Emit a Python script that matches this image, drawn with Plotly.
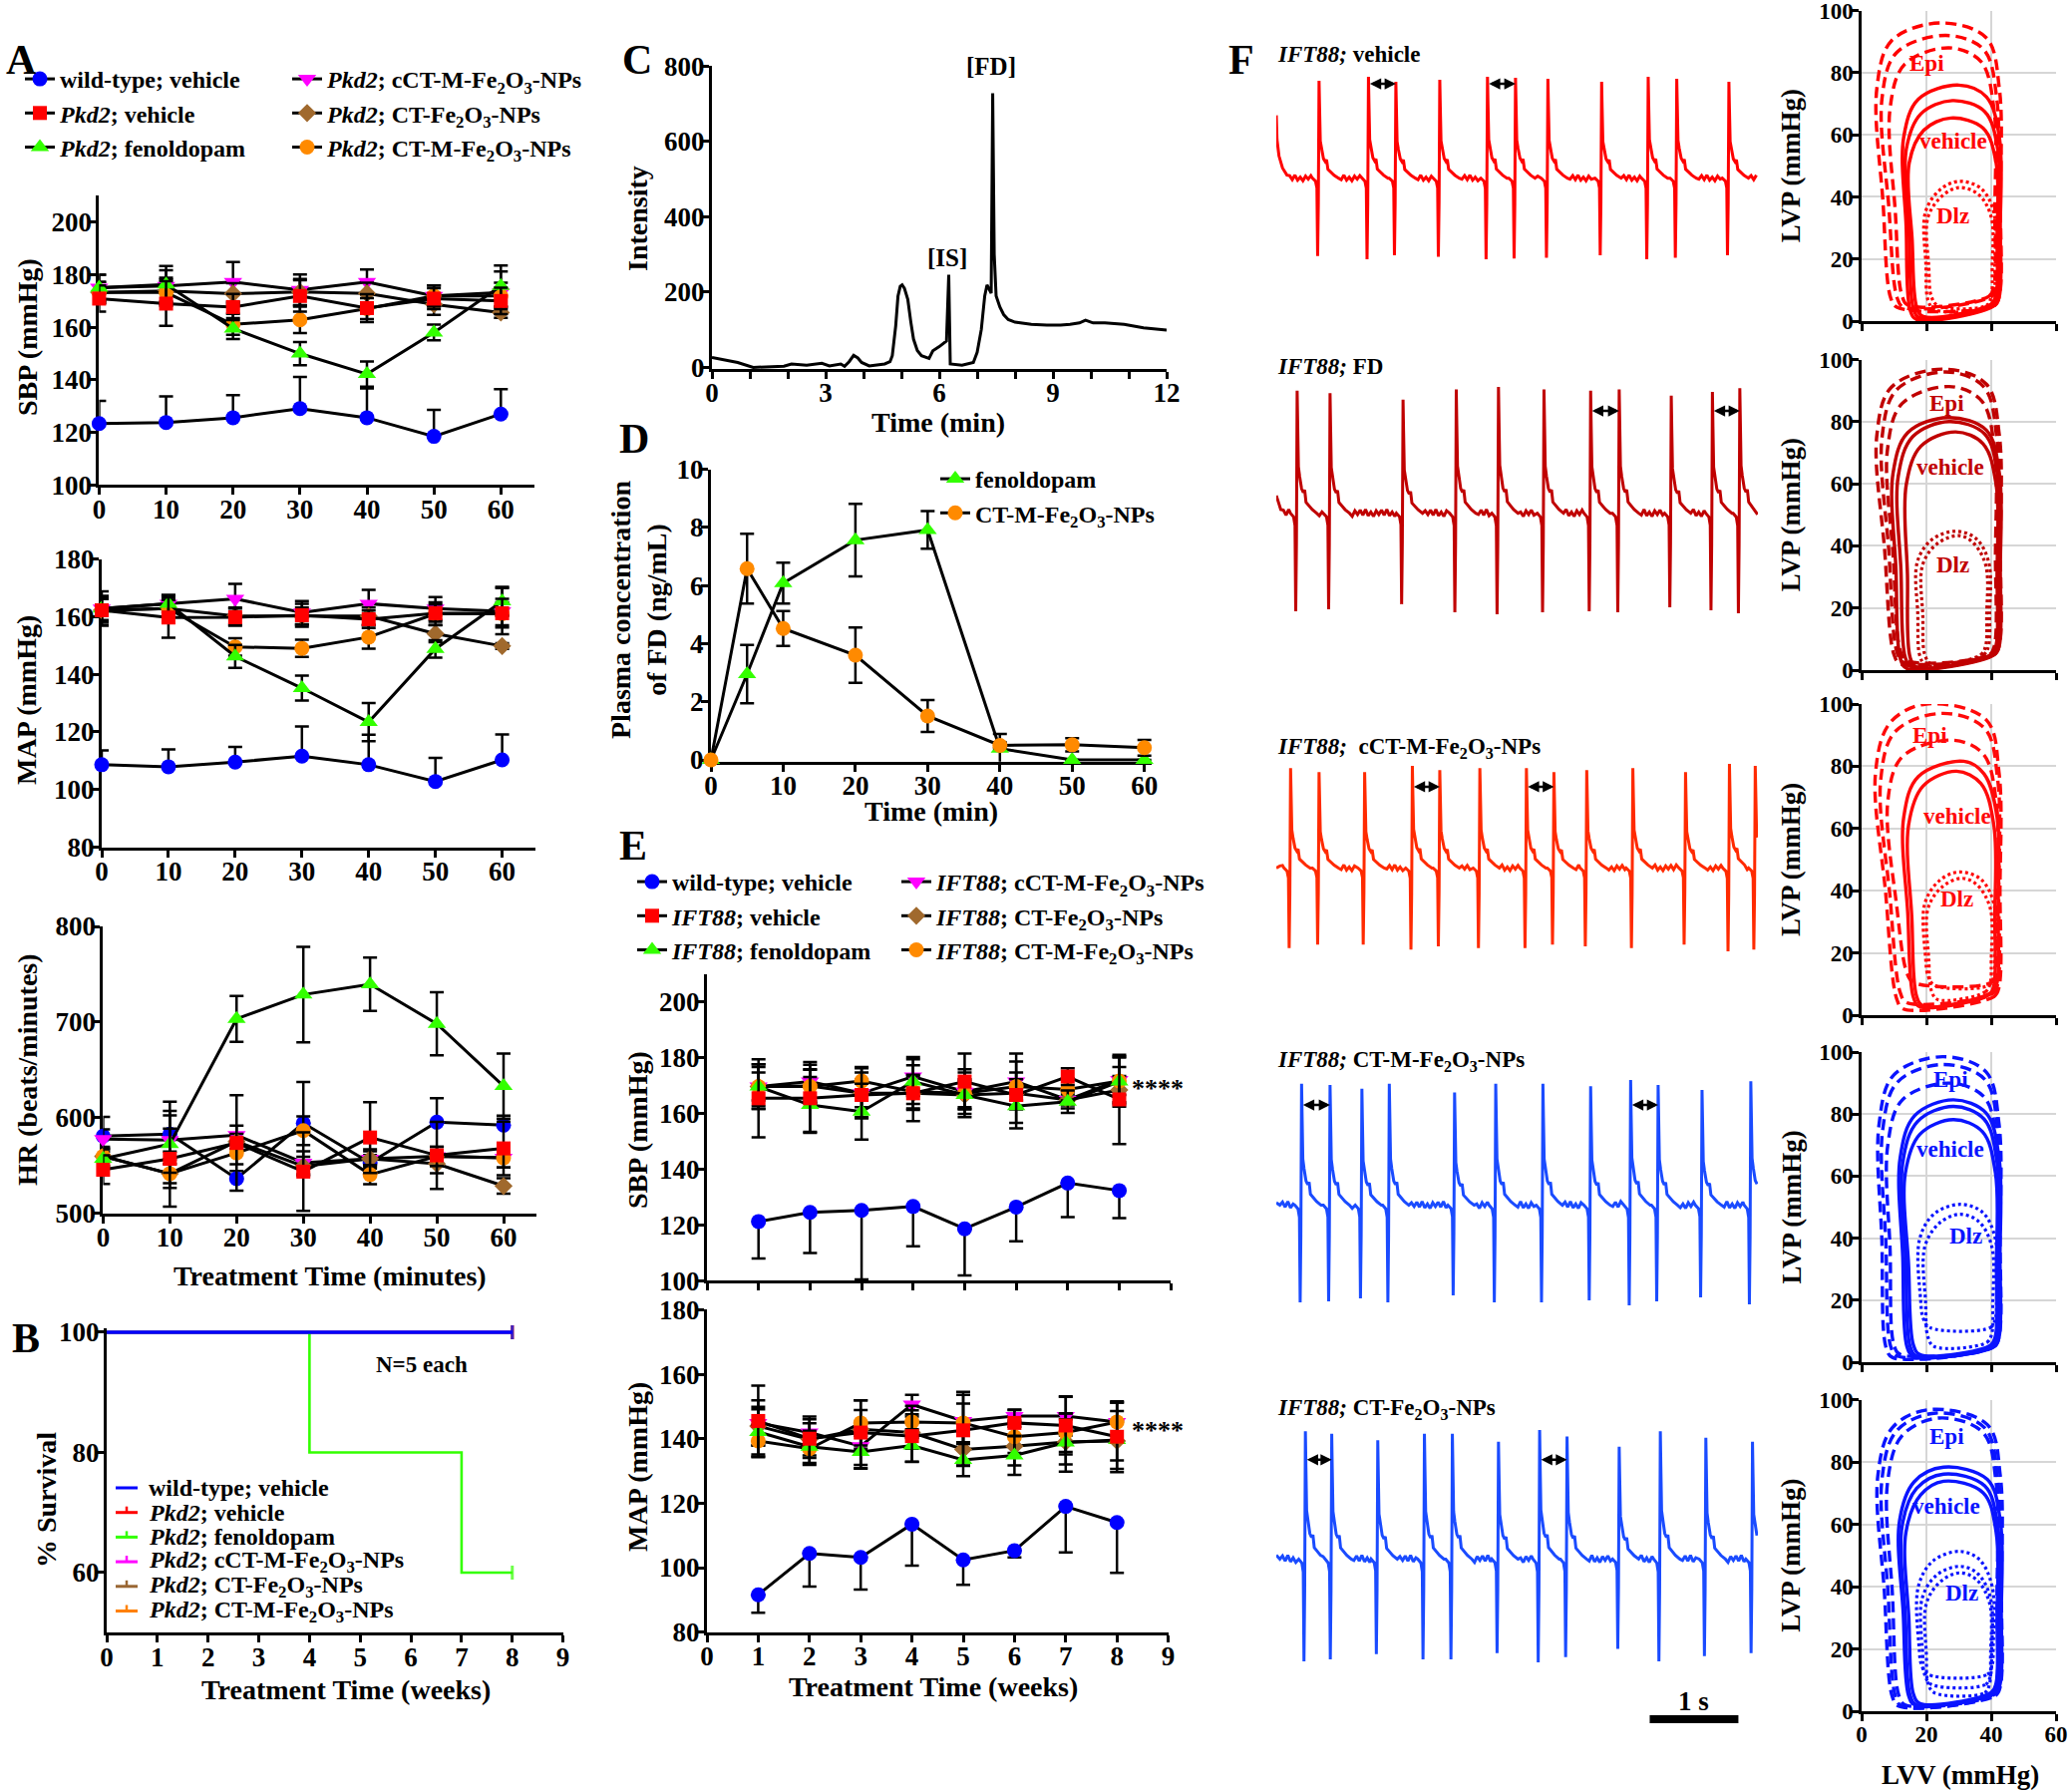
import plotly.graph_objects as go

W, H = 2078, 1796
OFF = 0
FONT = "Liberation Serif"

# ======================= DATA =======================
# ---- Panel A (Pkd2, acute, minutes) ----
A_TIME = [0, 10, 20, 30, 40, 50, 60]
A_SBP_WT = [123.4, 123.8, 125.6, 129.1, 125.6, 118.5, 127.0]
A_SBP_WT_ERR = [8.6, 9.9, 8.6, 12.0, 11.1, 10.1, 9.5]
A_SBP_VEH = [170.9, 169.0, 167.7, 171.9, 167.3, 170.9, 170.0]
A_SBP_VEH_ERR = [5, 8.5, 5, 6, 5.3, 4, 5]
A_SBP_FEN = [175.0, 176.3, 159.5, 150.0, 142.2, 158.0, 175.7]
A_SBP_FEN_ERR = [5, 7, 4, 4.4, 4.8, 3, 7.8]
A_SBP_CCT = [175.0, 175.7, 177.2, 174.2, 177.2, 171.9, 173.2]
A_SBP_CCT_ERR = [5, 6, 7.6, 5.9, 4.8, 4, 8]
A_SBP_CTFE = [173.2, 173.8, 172.8, 173.4, 172.9, 168.7, 165.6]
A_SBP_CTFE_ERR = [4, 5, 4, 5, 4, 4, 2]
A_SBP_CTM = [173.2, 173.2, 161.1, 162.8, 167.1, 171.9, 171.9]
A_SBP_CTM_ERR = [4, 5, 4, 5, 4, 4, 5]

A_MAP_WT = [108.6, 107.9, 109.5, 111.6, 108.6, 102.8, 110.3]
A_MAP_WT_ERR = [5, 6, 5.3, 10.3, 10.4, 8.2, 8.8]
A_MAP_VEH = [162.2, 159.7, 159.8, 160.5, 159.1, 161.2, 161.2]
A_MAP_VEH_ERR = [5, 7, 3, 4, 3, 3, 5]
A_MAP_FEN = [162.8, 164.5, 146.2, 135.2, 123.4, 148.8, 165.3]
A_MAP_FEN_ERR = [4, 3, 4, 4.3, 6.6, 3, 5]
A_MAP_CCT = [162.8, 164.5, 166.2, 161.4, 164.5, 162.8, 161.9]
A_MAP_CCT_ERR = [6, 3, 5.2, 4, 4.8, 4, 8]
A_MAP_CTFE = [162.2, 162.8, 160.2, 160.2, 160.2, 154.1, 149.8]
A_MAP_CTFE_ERR = [4, 3, 3, 3, 3, 3, 1]
A_MAP_CTM = [162.2, 162.8, 149.5, 149.0, 152.9, 161.0, 161.0]
A_MAP_CTM_ERR = [4, 3, 3, 3, 4, 4, 4]

A_HR_WT = [580.7, 582.8, 536.2, 594.2, 552.8, 595.2, 592.1]
A_HR_WT_ERR = [20, 34, 8, 43, 8, 25, 10]
A_HR_VEH = [545.5, 556.9, 573.5, 543.5, 579.2, 560.5, 567.8]
A_HR_VEH_ERR = [15, 50, 50, 41, 37, 35, 28]
A_HR_FEN = [556.9, 572.4, 703.3, 728.7, 739.5, 698.1, 633.0]
A_HR_FEN_ERR = [10, 30, 24, 50, 28, 33, 34]
A_HR_CCT = [577.6, 576.6, 581.7, 552.8, 556.9, 559.5, 557.9]
A_HR_CCT_ERR = [10, 12, 10, 12, 10, 10, 10]
A_HR_CTFE = [559.5, 541.4, 575.0, 549.1, 556.9, 551.7, 528.5]
A_HR_CTFE_ERR = [5, 10, 8, 10, 8, 10, 8]
A_HR_CTM = [559.5, 541.4, 563.1, 586.4, 540.4, 559.5, 557.9]
A_HR_CTM_ERR = [10, 15, 12, 15, 10, 10, 10]

# ---- Panel B (survival, weeks) ----
B_WEEKS = [0, 4, 7, 8]
B_WT = [100, 100, 100, 100]
B_VEH = [100, 100, 100, 100]
B_FEN = [100, 80, 60, 60]
B_CCT = [100, 100, 100, 100]
B_CTFE = [100, 100, 100, 100]
B_CTM = [100, 100, 100, 100]

# ---- Panel C (chromatogram) ----
C_TIME = [0, 0.68, 1.09, 1.5, 1.9, 2.1, 2.5, 2.9, 3.1, 3.4, 3.5, 3.62, 3.74, 3.85, 3.95,
          4.15, 4.56, 4.7, 4.76, 4.85, 4.91, 4.97, 5.02, 5.08, 5.17, 5.25, 5.32, 5.42, 5.53,
          5.73, 5.78, 5.83, 6.0, 6.14, 6.19, 6.25, 6.27, 6.29, 6.6, 6.9, 7.0, 7.11, 7.2, 7.26,
          7.33, 7.37, 7.41, 7.45, 7.5, 7.6, 7.7, 7.82, 8.0, 8.13, 8.43, 8.84, 9.2, 9.45, 9.7,
          9.86, 10.06, 10.37, 10.88, 11.39, 12.0]
C_INTENSITY = [26, 13, 0, 2, 3, 9, 6, 11, 4, 9, 3, 15, 32, 25, 13,
               4, 9, 15, 31, 110, 189, 215, 219, 210, 180, 120, 75, 45, 31,
               24, 35, 44, 55, 66, 70, 246, 60, 9, 6, 13, 40, 101, 190, 219,
               205, 197, 728, 300, 190, 160, 140, 127, 120, 118, 114, 112, 112, 114, 118,
               125, 118, 118, 114, 105, 99]
C_MINOR_TICKS = [1, 2, 4, 5, 7, 8, 10, 11]

# ---- Panel D (plasma FD) ----
D_TIME = [0, 5, 10, 20, 30, 40, 50, 60]
D_FEN = [0, 2.95, 6.08, 7.56, 7.91, 0.39, 0, 0]
D_FEN_ERR = [0, 1.0, 0.7, 1.25, 0.65, 0.5, 0, 0]
D_CTM = [0, 6.58, 4.52, 3.6, 1.51, 0.5, 0.52, 0.42]
D_CTM_ERR = [0, 1.2, 0.6, 0.95, 0.55, 0.1, 0.23, 0.27]

# ---- Panel E (IFT88, weeks) ----
E_WEEKS = [1, 2, 3, 4, 5, 6, 7, 8]
E_SBP_WT = [121.2, 124.5, 125.2, 126.6, 118.6, 126.4, 135.0, 132.3]
E_SBP_WT_ERR = [13.3, 14.6, 24.8, 14.3, 16.7, 12.3, 12.2, 9.9]
E_SBP_VEH = [165.4, 165.4, 166.6, 167.2, 171.4, 166.6, 173.2, 165.0]
E_SBP_VEH_ERR = [14, 12, 8, 10, 10, 12, 3, 16]
E_SBP_FEN = [169.6, 163.0, 160.6, 171.4, 166.6, 162.6, 164.2, 171.4]
E_SBP_FEN_ERR = [8, 10, 10, 8, 8, 6, 4, 9]
E_SBP_CCT = [169.6, 171.4, 167.2, 173.2, 167.8, 171.4, 164.8, 172.0]
E_SBP_CCT_ERR = [8, 7, 9, 7, 8, 10, 2, 8]
E_SBP_CTFE = [169.6, 169.8, 167.2, 167.2, 166.6, 167.2, 164.8, 168.4]
E_SBP_CTFE_ERR = [7, 6, 5, 6, 5, 5, 3, 5]
E_SBP_CTM = [169.6, 169.6, 171.6, 167.8, 167.2, 169.6, 168.6, 171.6]
E_SBP_CTM_ERR = [5, 6, 5, 6, 5, 5, 4, 5]

E_MAP_WT = [91.6, 104.4, 103.2, 113.5, 102.4, 105.3, 119.0, 114.0]
E_MAP_WT_ERR = [5.6, 10.3, 10.0, 12.9, 7.7, 2.1, 14.3, 15.6]
E_MAP_VEH = [145.5, 140.0, 141.9, 140.8, 142.6, 144.9, 144.1, 140.6]
E_MAP_VEH_ERR = [11, 6, 10, 8, 11, 4, 9, 11]
E_MAP_FEN = [142.1, 137.5, 135.9, 137.9, 133.4, 134.8, 138.8, 139.6]
E_MAP_FEN_ERR = [7, 5, 5, 5, 5, 6, 9, 9]
E_MAP_CCT = [144.9, 141.9, 137.7, 150.6, 145.5, 147.0, 147.0, 145.2]
E_MAP_CCT_ERR = [7, 5, 7, 3, 9, 2, 6, 6]
E_MAP_CTFE = [143.9, 139.8, 142.9, 141.9, 136.7, 137.7, 139.0, 139.3]
E_MAP_CTFE_ERR = [6, 5, 6, 5, 5, 6, 7, 6]
E_MAP_CTM = [139.3, 136.9, 144.9, 145.2, 144.9, 140.6, 141.9, 145.2]
E_MAP_CTM_ERR = [5, 5, 7, 5, 6, 5, 6, 6]

# ---- Panel F: ECG (beat times in s, relative spike amplitudes) ----
ECG_BEAT_DT = [-0.075, -0.04, -0.024, -0.016, -0.008, 0.0, 0.006, 0.014, 0.028, 0.05, 0.07, 0.085, 0.1, 0.13, 0.17, 0.22]
ECG_BEAT_V = [0.0, -0.03, -0.1, -0.8, -0.25, 1.0, 0.72, 0.38, 0.3, 0.2, 0.17, 0.19, 0.09, 0.06, 0.03, 0.0]
ECG_RIPPLE = [0.025, -0.015, 0.03, -0.02, 0.01, -0.025, 0.02, -0.01]
ECG_END = 5.43

ECG1_BEATS = [0.482, 1.039, 1.348, 1.843, 2.381, 2.697, 3.062, 3.668, 4.193, 4.515, 5.103]
ECG1_AMPS = [0.96, 1.0, 0.95, 0.97, 1.0, 0.99, 0.98, 0.95, 1.0, 0.98, 0.95]
ECG1_START_T = [0.0, 0.008, 0.03, 0.07, 0.12]
ECG1_START_V = [0.62, 0.38, 0.22, 0.1, 0.03]
ECG2_BEATS = [0.235, 0.606, 1.429, 2.029, 2.505, 3.018, 3.544, 3.866, 4.453, 4.917, 5.226]
ECG2_AMPS = [0.97, 0.95, 0.9, 0.98, 1.0, 0.98, 0.97, 0.98, 0.93, 0.96, 0.99]
ECG2_START_T = [0.0, 0.05]
ECG2_START_V = [0.14, 0.03]
ECG3_BEATS = [0.161, 0.482, 0.996, 1.534, 1.843, 2.295, 2.82, 3.13, 3.5, 4.02, 4.614, 5.109, 5.4]
ECG3_AMPS = [0.96, 0.92, 0.92, 0.98, 0.94, 0.96, 0.96, 0.92, 0.94, 0.96, 0.92, 1.0, 0.98]
ECG3_START_T = [0.0, 0.04]
ECG3_START_V = [0.0, 0.02]
ECG4_BEATS = [0.285, 0.606, 0.965, 1.274, 2.01, 2.474, 3.006, 3.544, 3.995, 4.305, 4.8, 5.35]
ECG4_AMPS = [0.97, 0.96, 0.93, 0.97, 0.9, 0.97, 0.97, 0.95, 1.0, 0.96, 0.92, 0.99]
ECG4_START_T = [0.0, 0.04]
ECG4_START_V = [0.02, 0.0]
ECG5_BEATS = [0.328, 0.625, 1.144, 1.67, 1.985, 2.505, 2.969, 3.278, 3.866, 4.33, 4.843, 5.369]
ECG5_AMPS = [0.99, 0.97, 0.92, 0.97, 0.97, 0.91, 1.0, 0.95, 0.87, 0.99, 0.94, 0.91]
ECG5_START_T = [0.0, 0.04]
ECG5_START_V = [0.03, 0.0]

ECG_ARROWS = [[(1.039, 1.348), (2.381, 2.697)], [(3.544, 3.866), (4.917, 5.226)],
              [(1.534, 1.843), (2.82, 3.13)], [(0.285, 0.606), (3.995, 4.305)],
              [(0.328, 0.625), (2.969, 3.278)]]
ECG_ARROW_LEVEL = [0.93, 0.81, 0.78, 0.8, 0.77]
SCALE_BAR_T = [4.21, 5.21]

# ---- Panel F: PV loops, read per loop:
# (LVV left side, LVV bottom-left, LVV right side, LVV at peak, peak LVP, LVP bottom-left, LVP bottom-right)
PV1_EPI = [(4.2, 9, 42.5, 24, 96, 4.4, 5), (5.8, 11, 41.7, 26, 92, 4.4, 8), (8.3, 12.5, 40.8, 27, 88, 5, 8)]
PV1_VEH = [(12.5, 15, 42.5, 30, 76, 0.5, 5), (13.3, 16, 42, 28, 71, 1, 5), (14.2, 17, 41.5, 27.5, 65.4, 1.5, 5.5)]
PV1_DLZ = [(19.2, 20.5, 40.8, 30, 45, 3.7, 4.5), (20, 21.5, 40, 30, 43, 5, 5)]
PV2_EPI = [(4.2, 10, 42.5, 25, 96.9, 2, 5), (5.8, 11, 41.7, 26, 96, 2.5, 5), (7.5, 12, 41, 27, 91.3, 3, 5)]
PV2_VEH = [(9.2, 12, 42.5, 26.7, 81.3, 0.5, 5), (10.8, 13.5, 42, 27, 80, 1, 5), (13.3, 15, 41.5, 29, 76.7, 1, 5)]
PV2_DLZ = [(16.7, 18, 39.2, 29, 44.7, 1.5, 5), (18.3, 19.5, 38.3, 30, 43.3, 2, 5)]
PV3_EPI = [(3.8, 10.9, 42.4, 20, 100, 2, 6), (5.4, 12, 42, 25, 97, 4, 7), (7.6, 14, 41.5, 28, 88.4, 10.5, 10.5)]
PV3_VEH = [(12.5, 16, 41.8, 31.5, 81.6, 2.7, 7.5), (14, 17, 40.8, 29.3, 78.4, 3, 6.5)]
PV3_DLZ = [(19, 20.5, 40.8, 30, 46, 9.6, 9.6), (20, 21.5, 39.7, 31, 44, 5, 7.5)]
PV4_EPI = [(4.9, 7.6, 42.4, 25, 98.5, 1.5, 5), (6, 9, 42, 25, 96, 2, 5), (7.6, 10, 41.8, 27, 90, 2.5, 5)]
PV4_VEH = [(11.4, 14, 42.4, 28.3, 84.6, 2, 5), (12.2, 15, 41.8, 28.3, 82.5, 2, 5), (13, 16, 41.3, 28.3, 78.2, 2.5, 5.5)]
PV4_DLZ = [(17.4, 19, 41.3, 30.4, 50.9, 11.2, 11.2), (19, 20.5, 40.2, 30.4, 47.7, 5, 6.4)]
PV5_EPI = [(4.5, 9.5, 42.8, 21, 96.8, 1.6, 5), (5.8, 10.5, 42, 23, 95.7, 1.6, 5), (7.5, 11.5, 41.5, 24, 94.1, 2, 5)]
PV5_VEH = [(11.2, 14.5, 42.8, 25.3, 78.3, 2, 6), (12, 15, 42, 25.3, 76.1, 2, 6), (13.2, 16, 41.5, 25.3, 73.8, 2.5, 6)]
PV5_DLZ = [(17, 18.5, 40.3, 30.3, 51.3, 11.8, 11.8), (18.2, 19.5, 39.8, 30.3, 46.5, 8.6, 8.6), (19.5, 20.5, 39.5, 30.3, 44.4, 5.9, 5.9)]

PV_LABEL_POS = [[(20, 83), (28.3, 58), (28.3, 34)], [(26.2, 86), (27.5, 65.3), (28.3, 34)],
                [(21.2, 90), (29.5, 64), (29.5, 37.5)], [(27.5, 91), (27.5, 68.8), (32, 40.8)],
                [(26.2, 88.2), (26.2, 65.8), (30.8, 38)]]

# ======================= STYLE =======================
GROUP_COLORS = ['#0000FF', '#FF0000', '#33FF00', '#FF00FF', '#A0692D', '#FF8A00']
GROUP_SYMBOLS = ['circle', 'square', 'triangle-up', 'triangle-down', 'diamond', 'circle']
GROUP_SIZES = [15, 14, 16, 16, 14, 15]
SUB = 'Fe<sub>2</sub>O<sub>3</sub>'
A_NAMES = ['wild-type; vehicle', '<i>Pkd2</i>; vehicle', '<i>Pkd2</i>; fenoldopam',
           '<i>Pkd2</i>; cCT-M-' + SUB + '-NPs', '<i>Pkd2</i>; CT-' + SUB + '-NPs',
           '<i>Pkd2</i>; CT-M-' + SUB + '-NPs']
E_NAMES = ['wild-type; vehicle', '<i>IFT88</i>; vehicle', '<i>IFT88</i>; fenoldopam',
           '<i>IFT88</i>; cCT-M-' + SUB + '-NPs', '<i>IFT88</i>; CT-' + SUB + '-NPs',
           '<i>IFT88</i>; CT-M-' + SUB + '-NPs']
ECG_COLORS = ['#FF0000', '#C00000', '#FF2A00', '#1A4BFF', '#1A4BFF']
PV_COLORS = ['#FF0000', '#C00000', '#FF0A0A', '#0A14FF', '#0A14FF']


def ref(k, letter):
    return letter if k == 1 else f"{letter}{k}"


def axname(k, letter):
    return f"{letter}axis" if k == 1 else f"{letter}axis{k}"


def span(va, pa, vb, pb, lo, hi):
    s = (pb - pa) / (vb - va)
    return pa + (lo - va) * s, pa + (hi - va) * s


def px(xp):
    return (xp - OFF) / W


def py(yp):
    return 1 - (yp - OFF) / H


fig = go.Figure()
layout = dict(width=W, height=H, margin=dict(l=0, r=0, t=0, b=0, autoexpand=False),
              paper_bgcolor='white', plot_bgcolor='rgba(0,0,0,0)',
              font=dict(family=FONT, size=24, color='black', weight='bold'),
              showlegend=True, annotations=[], shapes=[])


def add_axes(k, xcal, ycal, xr, yr, xt=None, yt=None, xlab=True, ylab=True,
             tsize=27, lw=3, grid=False, visible=True, xstand=-9, ystand=-8, xminor=None):
    x0, x1 = span(xcal[0], xcal[1], xcal[2], xcal[3], xr[0], xr[1])
    yb, yt_ = span(ycal[0], ycal[1], ycal[2], ycal[3], yr[0], yr[1])
    xd = [px(x0), px(x1)]
    yd = [py(yb), py(yt_)]
    if not visible:
        layout[axname(k, 'x')] = dict(domain=xd, range=xr, anchor=ref(k, 'y'), visible=False, fixedrange=True)
        layout[axname(k, 'y')] = dict(domain=yd, range=yr, anchor=ref(k, 'x'), visible=False, fixedrange=True)
        return
    common = dict(showline=True, linecolor='black', linewidth=lw, ticks='outside', ticklen=7,
                  tickwidth=lw, tickcolor='black', showgrid=grid, gridcolor='#D6D6D6', gridwidth=2,
                  zeroline=False, layer='below traces', fixedrange=True, ticklabeloverflow='allow',
                  tickfont=dict(family=FONT, size=tsize, color='black', weight='bold'))
    xa = dict(common, domain=xd, range=xr, anchor=ref(k, 'y'),
              tickmode='array', tickvals=xt, showticklabels=xlab, ticklabelstandoff=xstand)
    if xminor:
        xa['minor'] = dict(tickmode='array', tickvals=xminor, ticks='outside', ticklen=7,
                           tickwidth=lw, tickcolor='black', showgrid=False)
    layout[axname(k, 'x')] = xa
    layout[axname(k, 'y')] = dict(common, domain=yd, range=yr, anchor=ref(k, 'x'),
                                  tickmode='array', tickvals=yt, showticklabels=ylab,
                                  ticklabelstandoff=ystand)


def txt(xp, yp, s, size=28, angle=0, xanchor='center', color='black', yanchor='middle'):
    layout['annotations'].append(dict(
        x=px(xp), y=py(yp), xref='paper', yref='paper', text=s, showarrow=False,
        font=dict(family=FONT, size=size, color=color, weight='bold'), textangle=angle,
        xanchor=xanchor, yanchor=yanchor))


def series(k, x, y, err, gi, name=None, legend=None, rank=None, mode_err='sym'):
    if mode_err == 'up':
        ey = dict(type='data', symmetric=False, array=err, arrayminus=[0] * len(err))
    elif mode_err == 'down':
        ey = dict(type='data', symmetric=False, array=[0] * len(err), arrayminus=err)
    else:
        ey = dict(type='data', symmetric=True, array=err)
    ey.update(color='black', thickness=2.5, width=7)
    fig.add_trace(go.Scatter(
        x=x, y=y, mode='lines+markers', line=dict(color='black', width=3),
        marker=dict(color=GROUP_COLORS[gi], symbol=GROUP_SYMBOLS[gi], size=GROUP_SIZES[gi]),
        error_y=ey, xaxis=ref(k, 'x'), yaxis=ref(k, 'y'), cliponaxis=False,
        name=name if name else '', showlegend=legend is not None,
        legend=legend if legend else 'legend', legendrank=rank if rank else 1000))


# ======================= AXES =======================
add_axes(1, (0, 99.4, 60, 502.3), (100, 486.4, 200, 222.7), [0, 65], [100, 210],
         [0, 10, 20, 30, 40, 50, 60], [100, 120, 140, 160, 180, 200])
add_axes(2, (0, 102, 60, 503.6), (80, 849.5, 180, 560.6), [0, 65], [80, 180],
         [0, 10, 20, 30, 40, 50, 60], [80, 100, 120, 140, 160, 180])
add_axes(3, (0, 103.4, 60, 505), (500, 1216.6, 800, 929), [0, 65], [500, 800],
         [0, 10, 20, 30, 40, 50, 60], [500, 600, 700, 800])
add_axes(4, (0, 107, 9, 564.6), (60, 1577, 100, 1336), [0, 9], [50, 100.6],
         list(range(10)), [60, 80, 100])
add_axes(5, (0, 714, 12, 1170), (0, 368.4, 800, 66.3), [0, 12], [-4, 800],
         [0, 3, 6, 9, 12], [0, 200, 400, 600, 800], xminor=C_MINOR_TICKS)
add_axes(6, (0, 713, 60, 1147.7), (0, 762, 10, 470.5), [0, 61], [-0.06, 10],
         [0, 10, 20, 30, 40, 50, 60], [0, 2, 4, 6, 8, 10])
add_axes(7, (1, 760.7, 8, 1122.5), (100, 1284.2, 200, 1004.6), [0, 9], [100, 210],
         list(range(10)), [100, 120, 140, 160, 180, 200], xlab=False)
add_axes(8, (0, 709, 9, 1171.6), (80, 1636.7, 180, 1313.4), [0, 9], [80, 180],
         list(range(10)), [80, 100, 120, 140, 160, 180])

ECG_ROWS = [(77, 260), (388, 616), (766, 954), (1083, 1309), (1434, 1667)]
for i, (top, bot) in enumerate(ECG_ROWS):
    yr = [-1.35, 1.0] if i == 4 else [-0.8, 1.0]
    add_axes(9 + i, (0, 1280, ECG_END, 1763), (-0.8, bot, 1.0, top), [0, ECG_END], yr, visible=False)

PV_ROWS = [(10.6, 322), (360.5, 672), (706, 1018), (1055, 1366), (1403.5, 1716)]
for i, (top, bot) in enumerate(PV_ROWS):
    add_axes(14 + i, (0, 1867, 60, 2062), (0, bot, 100, top), [0, 60], [0, 100],
             [0, 20, 40, 60], [0, 20, 40, 60, 80, 100], xlab=(i == 4), tsize=23, lw=2.5, grid=True,
             xstand=-6, ystand=-6)

# ======================= TRACES =======================
ORDER = [0, 3, 4, 5, 2, 1]
A_SETS = [
    (1, [A_SBP_WT, A_SBP_VEH, A_SBP_FEN, A_SBP_CCT, A_SBP_CTFE, A_SBP_CTM],
     [A_SBP_WT_ERR, A_SBP_VEH_ERR, A_SBP_FEN_ERR, A_SBP_CCT_ERR, A_SBP_CTFE_ERR, A_SBP_CTM_ERR]),
    (2, [A_MAP_WT, A_MAP_VEH, A_MAP_FEN, A_MAP_CCT, A_MAP_CTFE, A_MAP_CTM],
     [A_MAP_WT_ERR, A_MAP_VEH_ERR, A_MAP_FEN_ERR, A_MAP_CCT_ERR, A_MAP_CTFE_ERR, A_MAP_CTM_ERR]),
    (3, [A_HR_WT, A_HR_VEH, A_HR_FEN, A_HR_CCT, A_HR_CTFE, A_HR_CTM],
     [A_HR_WT_ERR, A_HR_VEH_ERR, A_HR_FEN_ERR, A_HR_CCT_ERR, A_HR_CTFE_ERR, A_HR_CTM_ERR]),
]
for k, vals, errs in A_SETS:
    for gi in ORDER:
        leg = None
        if k == 1:
            leg = 'legend' if gi < 3 else 'legend2'
        series(k, A_TIME, vals[gi], errs[gi], gi, name=A_NAMES[gi], legend=leg,
               rank=(gi % 3) + 1, mode_err=('up' if gi == 0 else 'sym'))

E_SETS = [
    (7, [E_SBP_WT, E_SBP_VEH, E_SBP_FEN, E_SBP_CCT, E_SBP_CTFE, E_SBP_CTM],
     [E_SBP_WT_ERR, E_SBP_VEH_ERR, E_SBP_FEN_ERR, E_SBP_CCT_ERR, E_SBP_CTFE_ERR, E_SBP_CTM_ERR]),
    (8, [E_MAP_WT, E_MAP_VEH, E_MAP_FEN, E_MAP_CCT, E_MAP_CTFE, E_MAP_CTM],
     [E_MAP_WT_ERR, E_MAP_VEH_ERR, E_MAP_FEN_ERR, E_MAP_CCT_ERR, E_MAP_CTFE_ERR, E_MAP_CTM_ERR]),
]
for k, vals, errs in E_SETS:
    for gi in ORDER:
        leg = None
        if k == 7:
            leg = 'legend4' if gi < 3 else 'legend5'
        series(k, E_WEEKS, vals[gi], errs[gi], gi, name=E_NAMES[gi], legend=leg,
               rank=(gi % 3) + 1, mode_err=('down' if gi == 0 else 'sym'))

# Panel B survival
B_SERIES = [B_WT, B_VEH, B_FEN, B_CCT, B_CTFE, B_CTM]
for gi in [1, 3, 4, 5, 2, 0]:
    col = GROUP_COLORS[gi] if gi != 4 else '#996633'
    n = len(B_WEEKS)
    fig.add_trace(go.Scatter(
        x=B_WEEKS, y=B_SERIES[gi], mode='lines+markers',
        line=dict(color=col, width=3.6 if gi == 0 else 2.6, shape='hv'),
        marker=dict(symbol='line-ns', size=[0] * (n - 1) + [10], line=dict(color=col, width=3)),
        xaxis='x4', yaxis='y4', showlegend=False, cliponaxis=False))

# Panel C chromatogram
fig.add_trace(go.Scatter(x=C_TIME, y=C_INTENSITY, mode='lines', line=dict(color='black', width=3),
                         xaxis='x5', yaxis='y5', showlegend=False))

# Panel D
fig.add_trace(go.Scatter(
    x=D_TIME, y=D_FEN, mode='lines+markers', line=dict(color='black', width=3),
    marker=dict(color=GROUP_COLORS[2], symbol='triangle-up', size=16),
    error_y=dict(type='data', array=D_FEN_ERR, color='black', thickness=2.5, width=7),
    xaxis='x6', yaxis='y6', cliponaxis=False, name='fenoldopam', legend='legend3', legendrank=1))
fig.add_trace(go.Scatter(
    x=D_TIME, y=D_CTM, mode='lines+markers', line=dict(color='black', width=3),
    marker=dict(color=GROUP_COLORS[5], symbol='circle', size=15),
    error_y=dict(type='data', array=D_CTM_ERR, color='black', thickness=2.5, width=7),
    xaxis='x6', yaxis='y6', cliponaxis=False, name='CT-M-' + SUB + '-NPs', legend='legend3', legendrank=2))


# ECG traces
def build_ecg(beats, amps, st, sv, t_end):
    ts, vs = list(st), list(sv)
    cursor = ts[-1]
    r = 0
    for i, (tb, a) in enumerate(zip(beats, amps)):
        seg0 = tb + ECG_BEAT_DT[0]
        t = cursor + 0.03
        while t < seg0 - 0.012:
            ts.append(t)
            vs.append(ECG_RIPPLE[r % len(ECG_RIPPLE)])
            r += 1
            t += 0.03
        nxt = beats[i + 1] + ECG_BEAT_DT[0] if i + 1 < len(beats) else t_end + 1
        for dt, dv in zip(ECG_BEAT_DT, ECG_BEAT_V):
            tt = tb + dt
            if cursor < tt < nxt - 0.005 and tt <= t_end:
                ts.append(tt)
                vs.append(dv * a)
        cursor = ts[-1]
    t = cursor + 0.03
    while t <= t_end:
        ts.append(t)
        vs.append(ECG_RIPPLE[r % len(ECG_RIPPLE)])
        r += 1
        t += 0.03
    return ts, vs


ECG_DATA = [(ECG1_BEATS, ECG1_AMPS, ECG1_START_T, ECG1_START_V),
            (ECG2_BEATS, ECG2_AMPS, ECG2_START_T, ECG2_START_V),
            (ECG3_BEATS, ECG3_AMPS, ECG3_START_T, ECG3_START_V),
            (ECG4_BEATS, ECG4_AMPS, ECG4_START_T, ECG4_START_V),
            (ECG5_BEATS, ECG5_AMPS, ECG5_START_T, ECG5_START_V)]
for i, (bt, am, st, sv) in enumerate(ECG_DATA):
    ts, vs = build_ecg(bt, am, st, sv, ECG_END)
    k = 9 + i
    fig.add_trace(go.Scatter(x=ts, y=vs, mode='lines', line=dict(color=ECG_COLORS[i], width=3),
                             xaxis=ref(k, 'x'), yaxis=ref(k, 'y'), showlegend=False))
    for (t1, t2) in ECG_ARROWS[i]:
        lv = ECG_ARROW_LEVEL[i]
        layout['annotations'].append(dict(
            x=t2, y=lv, ax=t1, ay=lv, xref=ref(k, 'x'), yref=ref(k, 'y'),
            axref=ref(k, 'x'), ayref=ref(k, 'y'), text='', showarrow=True,
            arrowhead=2, arrowside='end+start', arrowsize=0.9, arrowwidth=2.5, arrowcolor='black'))

# scale bar (1 s) on last ECG axis
fig.add_trace(go.Scatter(x=SCALE_BAR_T, y=[-1.24, -1.24], mode='lines', line=dict(color='black', width=8),
                         xaxis='x13', yaxis='y13', showlegend=False))
layout['annotations'].append(dict(x=sum(SCALE_BAR_T) / 2, y=-1.1, xref='x13', yref='y13', text='1 s',
                                  showarrow=False, font=dict(family=FONT, size=27, color='black', weight='bold')))


# PV loops: each loop traced through its key points (bottom -> right side -> top -> left side)
def loop_points(xl, xlb, xr, xm, pk, pb, pb2):
    v = [xlb + 2, xr - 1.5, xr, xr + 0.3, xr, xr - 4, xm, xl + 5, xl + 0.5, (xl + xlb) / 2, xlb, xlb + 2]
    p = [pb, pb2, pb2 + 3, 0.4 * pk, 0.78 * pk, 0.95 * pk, pk, 0.94 * pk, 0.78 * pk, 0.4 * pk, pb + 3, pb]
    return v, p


PV_SETS = [(PV1_EPI, PV1_VEH, PV1_DLZ), (PV2_EPI, PV2_VEH, PV2_DLZ), (PV3_EPI, PV3_VEH, PV3_DLZ),
           (PV4_EPI, PV4_VEH, PV4_DLZ), (PV5_EPI, PV5_VEH, PV5_DLZ)]
DASHES = ['11px,6px', 'solid', '3px,3px']
WIDTHS = [3.4, 3.4, 3.2]
for i, sets in enumerate(PV_SETS):
    k = 14 + i
    col = PV_COLORS[i]
    for j in range(3):
        for prm in sets[j]:
            lv, lp = loop_points(*prm)
            fig.add_trace(go.Scatter(
                x=lv, y=lp, mode='lines',
                line=dict(color=col, width=WIDTHS[j], dash=DASHES[j], shape='spline', smoothing=1.0),
                xaxis=ref(k, 'x'), yaxis=ref(k, 'y'), showlegend=False, cliponaxis=False))
    for (lx, ly), lab in zip(PV_LABEL_POS[i], ['Epi', 'vehicle', 'Dlz']):
        layout['annotations'].append(dict(
            x=lx, y=ly, xref=ref(k, 'x'), yref=ref(k, 'y'), text=lab, showarrow=False,
            font=dict(family=FONT, size=23, color=col, weight='bold')))

# ======================= LEGENDS =======================
LEG = dict(xanchor='left', yanchor='top', bgcolor='rgba(0,0,0,0)', borderwidth=0,
           font=dict(family=FONT, size=24, color='black', weight='bold'),
           tracegroupgap=0, traceorder='normal', itemclick=False, itemdoubleclick=False)
layout['legend'] = dict(LEG, x=px(20), y=py(57))
layout['legend2'] = dict(LEG, x=px(288), y=py(57))
layout['legend3'] = dict(LEG, x=px(938), y=py(458))
layout['legend4'] = dict(LEG, x=px(634), y=py(862))
layout['legend5'] = dict(LEG, x=px(899), y=py(862))

# Panel B legend (compact, drawn manually)
B_LEG_COLORS = ['#0000FF', '#FF0000', '#33FF00', '#FF00FF', '#996633', '#FF8000']
for i, (nm, col) in enumerate(zip(A_NAMES, B_LEG_COLORS)):
    yy = 1492 + 24.7 * i
    layout['shapes'].append(dict(type='line', xref='paper', yref='paper', x0=px(116), x1=px(138),
                                 y0=py(yy), y1=py(yy), line=dict(color=col, width=3)))
    if i > 0:
        layout['shapes'].append(dict(type='line', xref='paper', yref='paper', x0=px(127), x1=px(127),
                                     y0=py(yy), y1=py(yy - 6), line=dict(color=col, width=2.5)))
    txt(147, yy, nm, size=24, xanchor='left')

# ======================= TEXT =======================
for lab, xp, yp in [('A', 4, 60), ('B', 10, 1342), ('C', 622, 60), ('D', 619, 440), ('E', 619, 848), ('F', 1230, 60)]:
    txt(xp, yp, lab, size=42, xanchor='left')

txt(27, 338, 'SBP (mmHg)', angle=-90)
txt(27, 702, 'MAP (mmHg)', angle=-90)
txt(27, 1073, 'HR (beats/minutes)', angle=-90)
txt(331, 1279, 'Treatment Time (minutes)')
txt(46, 1504, '% Survival', angle=-90)
txt(347, 1694, 'Treatment Time (weeks)')
txt(423, 1368, 'N=5 each', size=23)
txt(639, 219, 'Intensity', angle=-90)
txt(941, 423, 'Time (min)')
txt(994, 66, '[FD]', size=25)
txt(950, 258, '[IS]', size=25)
txt(641, 612, 'Plasma concentration<br>of FD (ng/mL)', angle=-90)
txt(934, 814, 'Time (min)')
txt(639, 1133, 'SBP (mmHg)', angle=-90)
txt(639, 1471, 'MAP (mmHg)', angle=-90)
txt(936, 1691, 'Treatment Time (weeks)')
txt(1161, 1091, '****', size=26)
txt(1161, 1434, '****', size=26)

ECG_LABELS = ['<i>IFT88;</i> vehicle', '<i>IFT88;</i> FD', '<i>IFT88;</i>&nbsp; cCT-M-' + SUB + '-NPs',
              '<i>IFT88;</i> CT-M-' + SUB + '-NPs', '<i>IFT88;</i> CT-' + SUB + '-NPs']
for lab, yp in zip(ECG_LABELS, [54, 367, 750, 1064, 1413]):
    txt(1279, yp, lab, size=23, xanchor='left')

for top, bot in PV_ROWS:
    txt(1796, (top + bot) / 2, 'LVP (mmHg)', size=27, angle=-90)
txt(1966, 1780, 'LVV (mmHg)', size=27)

fig.update_layout(**layout)
fig.write_html("out.html", config={'displayModeBar': False},
               post_script="document.body.style.margin='0px';document.body.style.overflow='hidden';")
